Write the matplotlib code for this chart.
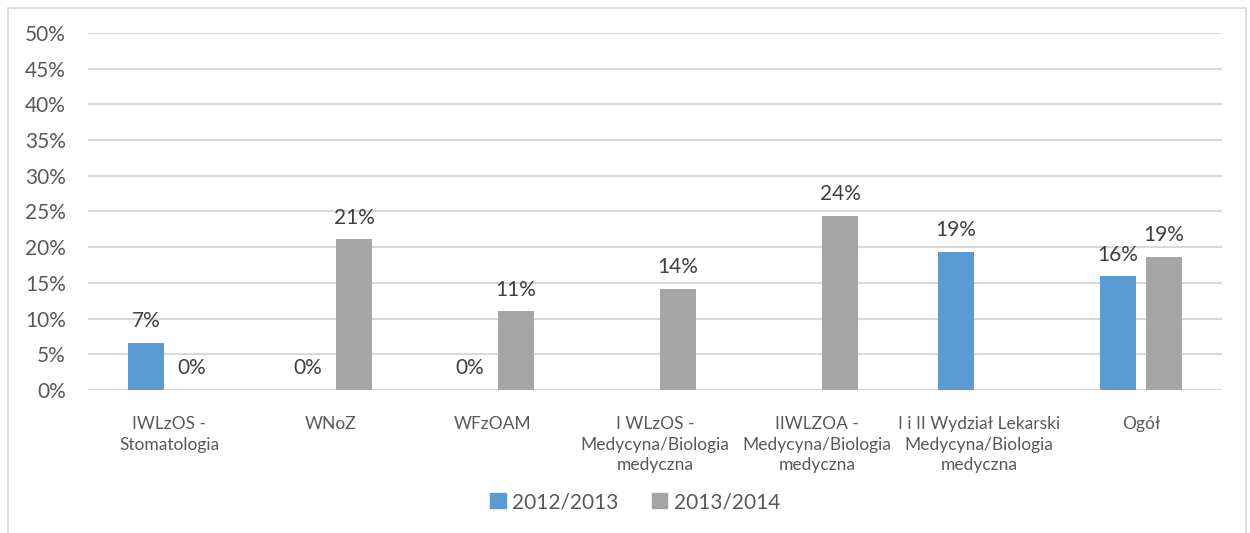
import numpy as np
import matplotlib
matplotlib.use("Agg")
import matplotlib.pyplot as plt
from matplotlib.patches import Patch

plt.rcParams['font.family'] = ['Lato', 'DejaVu Sans']

kategorie = ["IWLzOS -\nStomatologia", "WNoZ", "WFzOAM",
             "I WLzOS -\nMedycyna/Biologia\nmedyczna",
             "IIWLZOA -\nMedycyna/Biologia\nmedyczna",
             "I i II Wydział Lekarski\nMedycyna/Biologia\nmedyczna",
             "Ogół"]
serie = ["2012/2013", "2013/2014"]
# nan = brak słupka i etykiety
wartosci_2012 = [6.6, 0, 0, np.nan, np.nan, 19.3, 15.9]
wartosci_2013 = [0, 21.1, 11.0, 14.2, 24.4, np.nan, 18.6]
y_ticks = [0, 5, 10, 15, 20, 25, 30, 35, 40, 45, 50]

NIEBIESKI = '#5B9BD5'
SZARY = '#A5A5A5'
TEKST = '#595959'
SIATKA = '#D9D9D9'

fig = plt.figure(figsize=(12.5, 5.33), dpi=100)
ax = fig.add_axes([0.0704, 0.2683, 0.9072, 0.6698])

x = np.arange(len(kategorie))
w = 0.222
off = 0.143

for vals, dx, kolor in [(wartosci_2012, -off, NIEBIESKI), (wartosci_2013, off, SZARY)]:
    vals = np.array(vals, dtype=float)
    ok = ~np.isnan(vals)
    ax.bar(x[ok] + dx, vals[ok], width=w, color=kolor, zorder=3)
    for xi, v in zip(x[ok] + dx, vals[ok]):
        ax.annotate(f"{round(v):.0f}%", (xi, v), xytext=(0, 8.5), textcoords='offset points',
                    ha='center', va='bottom', fontsize=15, color='#404040')

ax.set_xlim(-0.5, len(kategorie) - 0.5)
ax.set_ylim(0, 50)
ax.set_yticks(y_ticks)
ax.set_yticklabels([f"{t}%" for t in y_ticks])
ax.set_xticks(x)
ax.set_xticklabels(kategorie, fontsize=12.5, color=TEKST, linespacing=1.32)
ax.tick_params(axis='y', length=0, pad=16, labelsize=15, labelcolor=TEKST)
ax.tick_params(axis='x', length=0, pad=19)
ax.grid(axis='y', color=SIATKA, linewidth=1.5, zorder=0)
for s in ax.spines.values():
    s.set_visible(False)

# ramka wykresu
fig.add_artist(plt.Rectangle((7.5 / 1250, -0.1), 1238 / 1250, 1.1 - 8 / 533,
                             transform=fig.transFigure, fill=False,
                             edgecolor=SIATKA, linewidth=1.2))

uchwyty = [Patch(color=NIEBIESKI), Patch(color=SZARY)]
fig.legend(uchwyty, serie, loc='center', bbox_to_anchor=(0.508, 0.058), ncol=2,
           frameon=False, fontsize=15, labelcolor=TEKST, handlelength=0.75,
           handleheight=0.75, handletextpad=0.3, columnspacing=1.6)

fig.savefig("out.png", dpi=100)
